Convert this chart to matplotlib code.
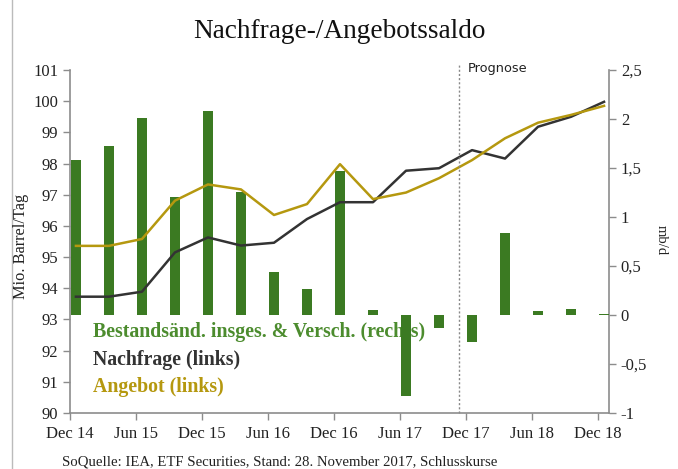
import matplotlib
matplotlib.use("Agg")
import matplotlib.pyplot as plt
from matplotlib.lines import Line2D
import numpy as np

quarters = ["Dec 14", "Mar 15", "Jun 15", "Sep 15", "Dec 15", "Mar 16", "Jun 16", "Sep 16",
            "Dec 16", "Mar 17", "Jun 17", "Sep 17", "Dec 17", "Mar 18", "Jun 18", "Sep 18", "Dec 18"]
tick_labels = ["Dec 14", "Jun 15", "Dec 15", "Jun 16", "Dec 16", "Jun 17", "Dec 17", "Jun 18", "Dec 18"]

bestand = [1.58, 1.72, 2.01, 1.20, 2.08, 1.26, 0.44, 0.27, 1.47, 0.05, -0.83, -0.13,
           -0.28, 0.84, 0.04, 0.06, 0.01]
nachfrage = [93.73, 93.73, 93.89, 95.15, 95.63, 95.37, 95.46, 96.22, 96.76, 96.76, 97.77,
             97.85, 98.43, 98.16, 99.18, 99.50, 99.98]
angebot = [95.36, 95.36, 95.58, 96.81, 97.33, 97.17, 96.35, 96.70, 97.98, 96.86, 97.07,
           97.53, 98.11, 98.81, 99.31, 99.56, 99.85]

left_ticks = list(range(90, 102))
right_ticks = [-1, -0.5, 0, 0.5, 1, 1.5, 2, 2.5]
right_labels = ["-1", "-0,5", "0", "0,5", "1", "1,5", "2", "2,5"]

GREEN = "#3B7A22"
GREEN_TXT = "#4C8C2E"
DARK = "#333333"
GOLD = "#B5980F"
AXC = "#8C8C8C"
FONT = "Liberation Serif"

W, H = 678, 469
fig = plt.figure(figsize=(W / 100, H / 100), dpi=100)
ax1 = fig.add_axes([70 / W, 1 - 413 / H, (609 - 70) / W, (413 - 70) / H])
ax2 = ax1.twinx()
ax1.set_zorder(ax2.get_zorder() + 1)
ax1.patch.set_visible(False)

off = 0.18
x = np.arange(len(quarters)) + off

ax2.bar(x, bestand, width=0.31, color=GREEN, zorder=3)
ax1.plot(x, nachfrage, color=DARK, lw=1.8, solid_joinstyle="round")
ax1.plot(x, angebot, color=GOLD, lw=1.8, solid_joinstyle="round")

ax1.set_xlim(0, 16.33)
ax1.set_ylim(90, 101)
ax2.set_ylim(-1, 2.5)

ax1.set_xticks(np.arange(0, 17, 2))
ax1.set_xticklabels(tick_labels)
ax1.set_yticks(left_ticks)
ax2.set_yticks(right_ticks)
ax2.set_yticklabels(right_labels)

for ax in (ax1, ax2):
    for s in ax.spines.values():
        s.set_visible(False)
ax1.spines["left"].set_visible(True)
ax1.spines["bottom"].set_visible(True)
ax2.spines["right"].set_visible(True)
for s in (ax1.spines["left"], ax1.spines["bottom"], ax2.spines["right"]):
    s.set_color(AXC)
    s.set_linewidth(1.2)

ax1.tick_params(axis="both", colors=AXC, labelcolor="#222222", length=5, width=1.0,
                labelsize=12)
ax2.tick_params(axis="y", colors=AXC, labelcolor="#222222", length=5, width=1.0,
                labelsize=12)
for lab in ax1.get_xticklabels() + ax1.get_yticklabels() + ax2.get_yticklabels():
    lab.set_fontfamily(FONT)
ax1.tick_params(axis="x", pad=4)

# forecast line
ax1.axvline(11.79, color="#888888", lw=1.0, ls=(0, (1.5, 1.5)), ymax=1.02, clip_on=False)
ax1.text(12.05, 101.05, "Prognose", fontsize=9.3, family="DejaVu Sans", color="#222222",
         va="center", ha="left")

# legend texts (behind bars)
leg_x = 0.70
ax2.text(leg_x, -0.175, "Bestandsänd. insges. & Versch. (rechts)", color=GREEN_TXT,
         fontsize=14.3, fontweight="bold", family=FONT, va="center", zorder=1)
ax2.text(leg_x, -0.46, "Nachfrage (links)", color=DARK, fontsize=14.3, fontweight="bold",
         family=FONT, va="center", zorder=1)
ax2.text(leg_x, -0.737, "Angebot (links)", color=GOLD, fontsize=14.3, fontweight="bold",
         family=FONT, va="center", zorder=1)

fig.text(339 / W, 1 - 31 / H, "Nachfrage-/Angebotssaldo", ha="center", va="center",
         fontsize=19.6, family=FONT, color="#111111")
fig.text(21 / W, 1 - 246 / H, "Mio. Barrel/Tag", rotation=90, ha="center", va="center",
         fontsize=11.8, family=FONT, color="#222222")
fig.text(661 / W, 1 - 240 / H, "mb/d", rotation=270, ha="center", va="center",
         fontsize=10.5, family=FONT, color="#222222")
fig.text(62 / W, 1 - 462 / H, "SoQuelle: IEA, ETF Securities, Stand: 28. November 2017, Schlusskurse",
         ha="left", va="center", fontsize=10.6, family=FONT, color="#222222")

fig.add_artist(Line2D([12 / W, 12 / W], [0, 1], color="#BBBBBB", lw=1.0))

fig.savefig("out.png", dpi=100)
